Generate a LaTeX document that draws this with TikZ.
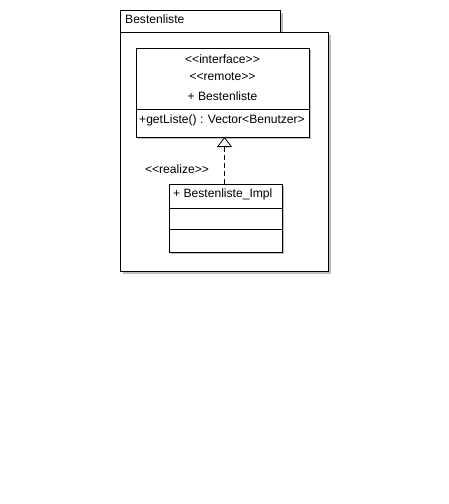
\documentclass[tikz,border=0pt]{standalone}
\usepackage{fontspec}
\setmainfont{Liberation Sans}[Ligatures=ResetAll]
\usetikzlibrary{arrows.meta}
\begin{document}
\begin{tikzpicture}[x=1pt,y=-1pt,
  box/.style={draw=black,fill=white,line width=0.8pt},
  shadowbox/.style={fill=black!25},
  lbl/.style={font=\fontsize{12.1}{13}\selectfont,inner sep=0pt},
  realize/.style={dashed,dash pattern=on 5pt off 3pt,line width=0.8pt,-{Triangle[open,width=15pt,length=10pt]}}
]
\useasboundingbox (0,0) rectangle (448,504);
% package
\fill[shadowbox] (123,35) rectangle (331,274);
\fill[shadowbox] (123,13) rectangle (283,35);
\draw[box] (120,10) rectangle (280,32);
\draw[box] (120,32) rectangle (328,271);
\node[lbl,anchor=west] (pkg) at (125,19) {Bestenliste};
% interface
\fill[shadowbox] (138,50) rectangle (311,139);
\draw[box] (136,48) rectangle (309,137);
\draw[line width=0.8pt] (136,109) -- (309,109);
\coordinate (ifbot) at (224.5,137);
\node[lbl] (st1) at (222.5,59) {<{}<interface>{}>};
\node[lbl] (st2) at (222.5,77) {<{}<remote>{}>};
\node[lbl] (ifname) at (222.5,96) {+ Bestenliste};
\node[lbl,anchor=west] (op) at (139,120) {+getListe() : Vector<Benutzer>};
% impl
\fill[shadowbox] (171,186) rectangle (284,254);
\draw[box] (169,184) rectangle (282,252);
\draw[line width=0.8pt] (169,208) -- (282,208);
\draw[line width=0.8pt] (169,229) -- (282,229);
\coordinate (impltop) at (224.5,184);
\node[lbl,anchor=west] (implname) at (173,194) {+ Bestenliste\_Impl};
% realization
\draw[realize] (impltop) -- (ifbot);
\node[lbl] (rl) at (177,169) {<{}<realize>{}>};
\end{tikzpicture}
\end{document}
